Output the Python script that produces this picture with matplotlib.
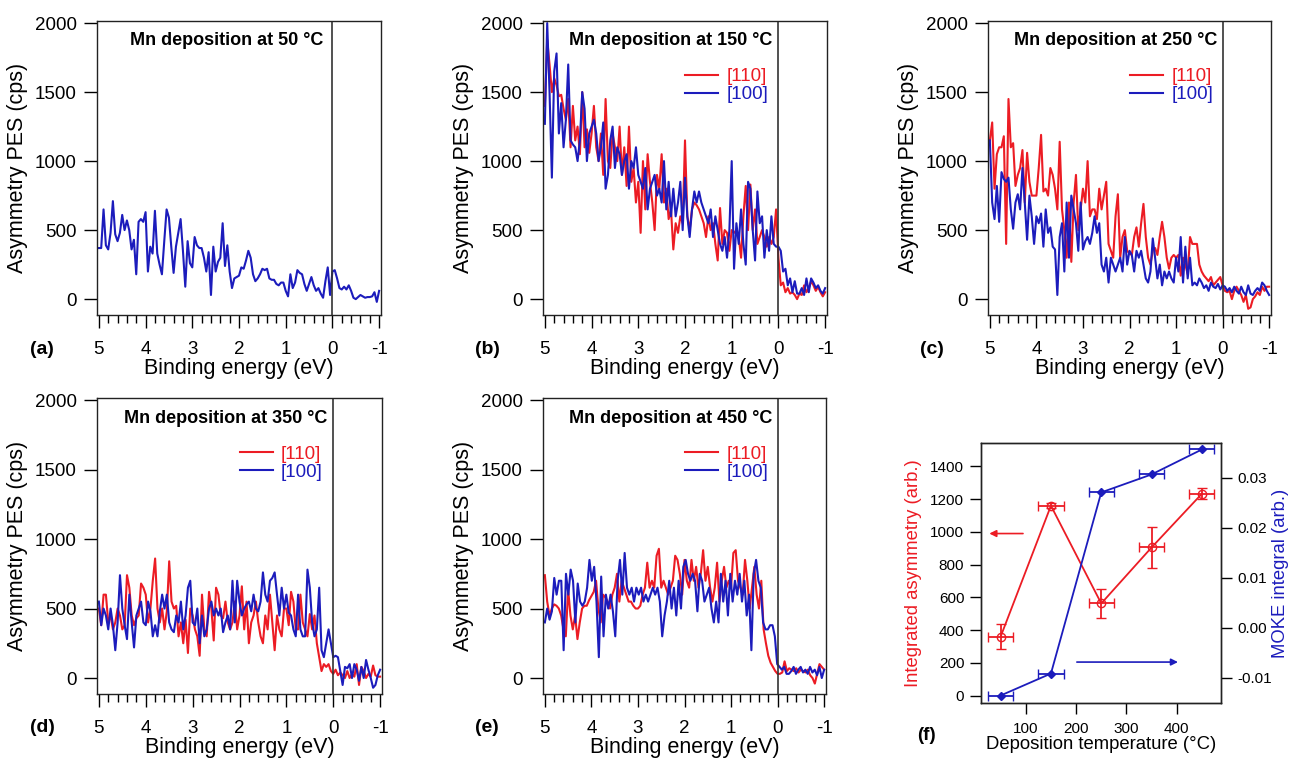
import numpy as np
import matplotlib
matplotlib.use("Agg")
import matplotlib.pyplot as plt
from matplotlib.ticker import MultipleLocator, FormatStrFormatter
import matplotlib.transforms as mtrans

plt.rcParams['font.family'] = ['Liberation Sans', 'DejaVu Sans']

RED = '#ec1c24'
BLUE = '#1c1cbc'

# ---- spectra, binding energy 5 eV -> -1 eV ----
a_100 = [370, 370, 650, 390, 360, 480, 710, 470, 420, 480, 610, 500, 570, 500, 360, 430, 180, 560, 580, 560,
         630, 200, 380, 330, 640, 330, 250, 180, 420, 650, 590, 380, 190, 380, 480, 580, 350, 90, 420, 260,
         230, 450, 390, 370, 370, 300, 200, 340, 30, 380, 200, 270, 300, 550, 240, 390, 200, 80, 150, 160,
         170, 230, 220, 280, 350, 300, 180, 130, 150, 180, 220, 210, 220, 150, 140, 140, 110, 100, 120, 120,
         60, 20, 180, 80, 120, 210, 190, 180, 110, 60, 110, 160, 100, 60, 80, 40, 10, 130, 230, 30,
         200, 210, 150, 80, 70, 90, 70, 100, 60, 10, 0, 15, 30, 20, 10, 15, 15, 20, 50, -20, 60]

b_110 = [1400, 1880, 1700, 1500, 1600, 1550, 1470, 1480, 1380, 1300, 1450, 1100, 1400, 1150, 1250, 1050, 1500, 1100, 1230, 1060,
         1200, 1400, 1100, 1000, 1200, 900, 1450, 1000, 950, 1200, 1100, 1000, 1250, 900, 1100, 820, 1250, 850, 950, 700,
         850, 480, 1000, 650, 1050, 850, 700, 500, 900, 800, 1050, 700, 800, 580, 650, 360, 550, 480, 600, 550,
         1150, 600, 500, 650, 700, 680, 650, 600, 550, 450, 600, 500, 550, 400, 280, 660, 400, 500, 480, 350,
         500, 480, 500, 450, 300, 600, 820, 500, 830, 500, 650, 400, 450, 500, 450, 380, 450, 400, 450, 650,
         300, 100, 120, 50, 80, 40, 50, 30, 0, 40, 30, 100, 50, 80, 130, 100, 60, 90, 50, 20, 50]
b_100 = [1270, 2000, 1500, 880, 1650, 1780, 1200, 1420, 1100, 1300, 1700, 1150, 1120, 1100, 1000, 1150, 1500, 1380, 1000, 1200,
         1250, 1300, 1200, 1000, 1100, 1280, 800, 900, 1150, 1250, 950, 1100, 1050, 900, 1000, 1050, 800, 1000, 950, 1100,
         900, 850, 800, 950, 650, 800, 850, 900, 750, 800, 700, 1000, 650, 850, 600, 800, 600, 700, 850, 500,
         880, 600, 450, 650, 780, 700, 780, 700, 650, 600, 550, 650, 450, 600, 500, 400, 350, 450, 300, 500,
         1000, 220, 550, 400, 650, 400, 250, 850, 800, 500, 280, 780, 550, 600, 300, 500, 350, 600, 400, 380,
         380, 350, 200, 220, 100, 150, 50, 130, 40, 40, 80, 30, 150, 50, 150, 120, 80, 100, 60, 40, 80]

c_110 = [1150, 1280, 800, 1050, 1100, 1100, 1180, 400, 1450, 1100, 1130, 820, 900, 950, 1080, 700, 1060, 850, 750, 750,
         750, 950, 1190, 780, 800, 750, 950, 900, 800, 650, 1140, 650, 500, 300, 700, 270, 700, 900, 500, 650,
         800, 700, 1000, 600, 650, 650, 580, 800, 650, 750, 850, 400, 350, 300, 600, 760, 300, 450, 500, 350,
         330, 320, 450, 520, 380, 550, 690, 450, 300, 250, 350, 370, 320, 450, 560, 450, 300, 220, 300, 320,
         300, 320, 170, 300, 250, 180, 450, 400, 400, 400, 250, 200, 170, 150, 130, 160, 100, 120, 140, 160,
         100, 60, 50, 60, 0, 60, 90, 60, 30, -20, 30, -70, -60, 0, 20, 50, 30, 90, 60, 90, 90]
c_100 = [1150, 700, 580, 820, 560, 920, 870, 850, 880, 650, 510, 700, 760, 650, 950, 700, 430, 750, 600, 400,
         600, 550, 620, 380, 650, 480, 520, 380, 360, 30, 450, 550, 200, 700, 300, 750, 650, 550, 350, 700,
         360, 420, 450, 400, 480, 600, 480, 550, 250, 200, 300, 120, 300, 250, 200, 250, 300, 200, 450, 250,
         350, 320, 200, 350, 300, 350, 250, 150, 120, 200, 440, 300, 150, 250, 100, 200, 150, 200, 150, 120,
         300, 200, 450, 120, 380, 150, 300, 100, 120, 100, 150, 120, 80, 100, 60, 120, 90, 80, 110, 70,
         100, 90, 60, 80, 50, 90, 60, 40, 90, 50, 30, 100, 40, 30, 60, 80, 60, 120, 100, 60, 30]

d_110 = [500, 380, 600, 600, 400, 450, 350, 400, 500, 450, 350, 380, 740, 650, 450, 380, 430, 450, 680, 650,
         600, 400, 500, 700, 860, 500, 400, 500, 350, 480, 840, 550, 500, 520, 300, 400, 250, 420, 180, 500,
         450, 350, 300, 160, 600, 350, 300, 620, 500, 270, 650, 600, 450, 430, 550, 400, 350, 400, 550, 350,
         450, 660, 350, 550, 250, 400, 450, 550, 400, 300, 250, 450, 350, 600, 400, 200, 450, 350, 300, 500,
         500, 380, 620, 550, 350, 350, 600, 400, 350, 300, 460, 350, 450, 250, 150, 50, 100, 80, 100, 50,
         30, 60, 20, 40, 20, 0, 50, 0, 30, 10, 100, -50, 80, 50, 0, 30, 10, 90, 20, 10, 10]
d_100 = [550, 380, 500, 450, 350, 500, 380, 200, 400, 740, 500, 380, 280, 600, 400, 220, 450, 500, 550, 400,
         380, 550, 480, 300, 380, 300, 480, 600, 500, 600, 400, 350, 330, 450, 400, 550, 350, 450, 650, 700,
         400, 380, 500, 250, 450, 300, 350, 500, 550, 450, 500, 450, 500, 330, 400, 450, 350, 700, 400, 700,
         550, 450, 500, 530, 550, 480, 600, 500, 480, 550, 760, 600, 550, 700, 720, 760, 600, 450, 650, 500,
         600, 470, 450, 350, 300, 600, 350, 300, 300, 780, 650, 400, 300, 350, 650, 200, 150, 250, 350, 250,
         150, 160, 150, 50, -50, 80, 70, 100, 0, 100, 60, -20, 80, 0, 130, 60, 0, -70, -50, 20, 60]

e_110 = [740, 550, 450, 500, 530, 520, 500, 450, 350, 300, 640, 450, 350, 450, 280, 400, 500, 520, 520, 560,
         590, 620, 700, 500, 400, 600, 580, 550, 500, 600, 650, 750, 550, 700, 650, 600, 550, 550, 520, 500,
         500, 520, 600, 650, 830, 650, 700, 650, 880, 930, 650, 700, 650, 600, 650, 700, 880, 850, 750, 600,
         850, 700, 650, 850, 700, 800, 650, 750, 920, 700, 800, 650, 550, 650, 830, 550, 700, 800, 650, 700,
         650, 900, 920, 700, 650, 600, 850, 700, 500, 650, 800, 600, 500, 700, 350, 250, 160, 110, 80, 50,
         30, 30, 40, 120, 50, 70, 60, 50, 70, 40, 60, 50, 40, 60, 20, 0, -40, 30, 100, 80, 60]
e_100 = [400, 500, 420, 480, 720, 600, 700, 700, 200, 750, 600, 780, 700, 400, 680, 550, 520, 550, 650, 850,
         700, 800, 550, 150, 730, 300, 600, 500, 600, 480, 300, 700, 850, 600, 900, 650, 600, 650, 550, 650,
         600, 650, 550, 600, 550, 600, 650, 600, 650, 550, 300, 450, 550, 700, 500, 650, 450, 700, 500, 800,
         850, 750, 700, 750, 700, 480, 750, 700, 550, 600, 650, 500, 400, 550, 400, 750, 550, 700, 450, 750,
         550, 700, 600, 750, 550, 700, 450, 600, 200, 750, 850, 700, 650, 400, 350, 350, 380, 380, 300, 100,
         80, 60, 80, 30, 30, 50, 80, 30, 60, 80, 40, 60, 30, 80, 40, 60, 20, 80, 0, 60]

# ---- panel (f) ----
temps = [50, 150, 250, 350, 450]
temp_err = [25, 25, 25, 25, 25]
asym = [360, 1160, 563, 905, 1233]
asym_err = [75, 15, 90, 125, 35]
moke = [-0.0136, -0.0092, 0.0271, 0.0307, 0.0357]

W, H = 1294, 758
fig = plt.figure(figsize=(W / 100, H / 100), dpi=100)


def box(l, r, t, b):
    return [l / W, 1 - b / H, (r - l) / W, (b - t) / H]


def spectrum(rect, temp, series, label, lab_xy, title_x=0.12):
    ax = fig.add_axes(rect)
    for vals, col, name in series:
        e = np.linspace(5, -1, len(vals))
        ax.plot(e, vals, color=col, lw=1.5, label=name)
    ax.axvline(0, color='#333333', lw=1.2)
    ax.set_xlim(5.04, -1.04)
    ax.set_ylim(-115, 2015)
    ax.xaxis.set_major_locator(MultipleLocator(1))
    ax.xaxis.set_minor_locator(MultipleLocator(0.2))
    ax.yaxis.set_major_locator(MultipleLocator(500))
    ax.xaxis.set_major_formatter(FormatStrFormatter('%d'))
    ax.tick_params(which='major', direction='out', length=9.5, width=1, labelsize=13.5, pad=5)
    ax.tick_params(axis='x', which='major', pad=9)
    ax.tick_params(which='minor', direction='out', length=5.5, width=1)
    ax.tick_params(axis='y', which='minor', left=False)
    for s in ax.spines.values():
        s.set_linewidth(1.0)
        s.set_color('#222222')
    ax.set_xlabel('Binding energy (eV)', fontsize=15.5, labelpad=0)
    ax.set_ylabel('Asymmetry PES (cps)', fontsize=15.5, labelpad=5)
    tr = mtrans.blended_transform_factory(ax.transData, ax.transAxes)
    ax.text(title_x, 0.932, 'Mn deposition at %d °C' % temp, transform=tr,
            ha='right', va='center', fontsize=13, fontweight='bold')
    if len(series) > 1:
        ax.legend(loc='upper left', bbox_to_anchor=(0.475, 0.865), frameon=False,
                  fontsize=13.5, handlelength=1.75, handletextpad=0.45, labelspacing=0.05,
                  labelcolor='linecolor', borderaxespad=0)
    fig.text(lab_xy[0] / W, 1 - lab_xy[1] / H, label, fontsize=14, fontweight='bold',
             ha='left', va='center')
    return ax


spectrum(box(97, 381, 21, 315), 50, [(a_100, BLUE, '[100]')], '(a)', (30, 350), title_x=0.2)
spectrum(box(543, 827, 21, 315), 150, [(b_110, RED, '[110]'), (b_100, BLUE, '[100]')], '(b)', (475, 350))
spectrum(box(988, 1271, 21, 315), 250, [(c_110, RED, '[110]'), (c_100, BLUE, '[100]')], '(c)', (920, 350))
spectrum(box(97, 382, 398, 694), 350, [(d_110, RED, '[110]'), (d_100, BLUE, '[100]')], '(d)', (30, 728))
spectrum(box(543, 826, 398, 694), 450, [(e_110, RED, '[110]'), (e_100, BLUE, '[100]')], '(e)', (475, 728))

# ---- (f) integrated asymmetry and MOKE ----
axf = fig.add_axes(box(981, 1221, 443, 703))
axf.errorbar(temps, asym, xerr=temp_err, yerr=asym_err, color=RED, lw=1.3,
             marker='o', ms=6, mfc='none', mec=RED, capsize=3.5, elinewidth=1.3)
axf.set_xlim(11, 488)
axf.set_ylim(-45, 1543)
axf.yaxis.set_major_locator(MultipleLocator(200))
axf.set_xticks([100, 200, 300, 400])
axf.tick_params(direction='out', length=8, width=1, labelsize=11, pad=4)
axf.tick_params(axis='x', pad=6)
axf.set_xlabel('Deposition temperature (°C)', fontsize=13.3, labelpad=0)
axf.set_ylabel('Integrated asymmetry (arb.)', fontsize=13.3, color=RED, labelpad=6)
axf.annotate('', xy=(22, 990), xytext=(100, 990),
             arrowprops=dict(arrowstyle='-|>', color=RED, lw=1.2, mutation_scale=10))
axf.annotate('', xy=(408, 205), xytext=(196, 205),
             arrowprops=dict(arrowstyle='-|>', color=BLUE, lw=1.2, mutation_scale=10))

axm = axf.twinx()
axm.errorbar(temps, moke, xerr=temp_err, color=BLUE, lw=1.3, marker='D', ms=4.5,
             mfc=BLUE, mec=BLUE, capsize=3.5, elinewidth=1.3)
axm.set_ylim(-0.0151, 0.0370)
axm.set_yticks([-0.01, 0.0, 0.01, 0.02, 0.03])
axm.yaxis.set_major_formatter(FormatStrFormatter('%.2f'))
axm.tick_params(direction='out', length=8, width=1, labelsize=11, pad=4)
axm.set_ylabel('MOKE integral (arb.)', fontsize=13.3, color=BLUE, rotation=90, labelpad=0)
for a in (axf, axm):
    for s in a.spines.values():
        s.set_linewidth(1.0)
        s.set_color('#222222')
fig.text(917 / W, 1 - 735 / H, '(f)', fontsize=13.5, fontweight='bold', ha='left', va='center')

fig.savefig('out.png', dpi=100)
